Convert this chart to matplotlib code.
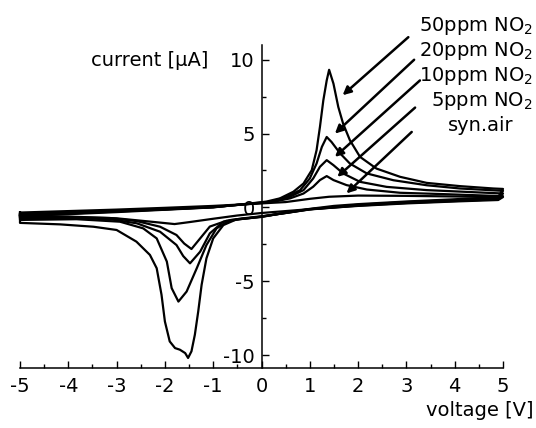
import numpy as np
import matplotlib
matplotlib.use("Agg")
import matplotlib.pyplot as plt
from matplotlib.ticker import MultipleLocator

plt.rcParams["font.family"] = ["DejaVu Sans"]
plt.rcParams["font.size"] = 14
plt.rcParams["axes.unicode_minus"] = False
plt.rcParams["mathtext.default"] = "regular"

# cyclic voltammograms, forward scan (-5 -> 5 V) and reverse scan (5 -> -5 V)
# syn. air
V_AIR_FWD = [-5.0, -4.0, -3.0, -2.0, -1.0, 0.0, 0.5, 1.0, 1.4, 2.0, 3.0, 4.0, 5.0]
I_AIR_FWD = [-0.35, -0.25, -0.15, -0.03, 0.1, 0.27, 0.36, 0.58, 0.72, 0.8, 0.78, 0.74, 0.7]
V_AIR_REV = [5.0, 4.9, 4.0, 3.0, 2.0, 1.0, 0.5, 0.0, -0.5, -1.0, -1.5, -1.8, -2.1, -2.5, -3.0, -4.0, -5.0]
I_AIR_REV = [0.7, 0.5, 0.4, 0.27, 0.1, -0.12, -0.25, -0.38, -0.55, -0.77, -1.0, -1.13, -1.03, -0.9, -0.74, -0.62, -0.58]

# 5 ppm NO2
V_5_FWD = [-5.0, -4.0, -3.0, -2.0, -1.0, 0.0, 0.25, 0.59, 0.87, 1.07, 1.21, 1.35, 1.49, 1.76, 2.18, 2.87, 3.76, 5.0]
I_5_FWD = [-0.45, -0.35, -0.24, -0.12, 0.03, 0.3, 0.38, 0.61, 0.94, 1.4, 1.85, 2.12, 1.85, 1.51, 1.21, 0.99, 0.9, 0.76]
V_5_REV = [5.0, 4.9, 4.0, 3.0, 2.0, 1.0, 0.5, 0.0, -0.4, -0.72, -1.07, -1.27, -1.45, -1.6, -1.76, -2.1, -2.58, -3.14, -4.0, -5.0]
I_5_REV = [0.76, 0.55, 0.43, 0.3, 0.12, -0.14, -0.38, -0.6, -0.75, -0.9, -1.3, -2.1, -2.82, -2.45, -1.87, -1.31, -0.93, -0.72, -0.66, -0.7]

# 10 ppm NO2
V_10_FWD = [-5.0, -4.0, -3.0, -2.0, -1.0, 0.0, 0.25, 0.59, 0.87, 1.07, 1.21, 1.35, 1.49, 1.69, 2.04, 2.59, 3.42, 5.0]
I_10_FWD = [-0.5, -0.38, -0.26, -0.13, 0.02, 0.31, 0.4, 0.72, 1.17, 1.96, 2.75, 3.2, 2.86, 2.3, 1.73, 1.39, 1.17, 0.94]
V_10_REV = [5.0, 4.9, 4.0, 3.0, 2.0, 1.0, 0.5, 0.0, -0.4, -0.79, -1.07, -1.27, -1.48, -1.62, -1.76, -2.1, -2.58, -3.14, -4.0, -5.0]
I_10_REV = [0.94, 0.6, 0.47, 0.33, 0.15, -0.13, -0.38, -0.62, -0.78, -0.97, -1.76, -3.0, -3.79, -3.3, -2.55, -1.65, -1.08, -0.8, -0.72, -0.76]

# 20 ppm NO2
V_20_FWD = [-5.0, -4.0, -3.0, -2.0, -1.0, 0.0, 0.18, 0.52, 0.8, 1.0, 1.14, 1.25, 1.35, 1.45, 1.63, 1.83, 2.18, 2.73, 3.42, 4.11, 5.0]
I_20_FWD = [-0.55, -0.42, -0.28, -0.14, 0.01, 0.33, 0.38, 0.72, 1.17, 1.96, 2.97, 4.1, 4.77, 4.43, 3.65, 2.97, 2.3, 1.84, 1.5, 1.28, 1.12]
V_20_REV = [5.0, 4.9, 4.0, 3.0, 2.0, 1.0, 0.5, 0.0, -0.3, -0.65, -0.93, -1.14, -1.34, -1.55, -1.72, -1.86, -1.96, -2.17, -2.45, -2.93, -3.83, -5.0]
I_20_REV = [1.12, 0.65, 0.5, 0.36, 0.18, -0.12, -0.37, -0.63, -0.75, -0.86, -1.42, -2.55, -4.12, -5.7, -6.38, -5.47, -3.67, -2.1, -1.42, -0.97, -0.8, -0.85]

# 50 ppm NO2
V_50_FWD = [-5.0, -4.0, -3.0, -2.0, -1.0, 0.0, 0.11, 0.38, 0.66, 0.87, 1.04, 1.14, 1.21, 1.28, 1.35, 1.40,
            1.49, 1.59, 1.69, 1.83, 2.04, 2.38, 2.87, 3.42, 4.11, 4.8, 5.0]
I_50_FWD = [-0.6, -0.46, -0.32, -0.16, 0.0, 0.35, 0.4, 0.61, 1.06, 1.62, 2.52, 3.87, 5.45, 7.25, 8.6, 9.32,
            8.38, 6.8, 5.67, 4.55, 3.42, 2.63, 2.07, 1.66, 1.44, 1.28, 1.25]
V_50_REV = [5.0, 4.9, 4.0, 3.0, 2.0, 1.5, 1.0, 0.5, 0.0, -0.51, -0.79, -1.0, -1.14, -1.24, -1.31, -1.38, -1.45,
            -1.52, -1.58, -1.69, -1.79, -1.9, -2.0, -2.07, -2.17, -2.31, -2.59, -3.0, -3.48, -4.17, -5.0]
I_50_REV = [1.25, 0.7, 0.55, 0.4, 0.22, 0.1, -0.1, -0.35, -0.65, -0.8, -1.2, -2.1, -3.45, -5.25, -7.05, -8.63, -9.75,
            -10.2, -9.87, -9.64, -9.53, -9.08, -7.73, -5.92, -4.12, -3.22, -2.32, -1.53, -1.31, -1.15, -1.05]

curves = [
    (V_AIR_FWD, I_AIR_FWD, V_AIR_REV, I_AIR_REV),
    (V_5_FWD, I_5_FWD, V_5_REV, I_5_REV),
    (V_10_FWD, I_10_FWD, V_10_REV, I_10_REV),
    (V_20_FWD, I_20_FWD, V_20_REV, I_20_REV),
    (V_50_FWD, I_50_FWD, V_50_REV, I_50_REV),
]

LABELS = ["50ppm NO$_2$", "20ppm NO$_2$", "10ppm NO$_2$", "5ppm NO$_2$"]
# arrow tail / head (voltage, current) for each label, top to bottom
ARROW_TAIL = [(3.04, 11.53), (3.16, 10.0), (3.28, 8.6), (3.18, 6.76), (3.11, 5.11)]
ARROW_HEAD = [(1.68, 7.6), (1.52, 5.0), (1.52, 3.42), (1.57, 2.07), (1.76, 0.95)]

W, H = 536, 428
fig = plt.figure(figsize=(W / 100, H / 100), dpi=100)
ax = fig.add_axes([20 / W, 59.7 / H, 483 / W, 323.3 / H])

for vf, i_f, vr, i_r in curves:
    v = np.r_[vf, vr, vf[0]]
    i = np.r_[i_f, i_r, i_f[0]]
    ax.plot(v, i, color="black", lw=1.6, solid_joinstyle="round", clip_on=False)

ax.set_xlim(-5, 5)
ax.set_ylim(-10.9, 11)
ax.spines["left"].set_position(("data", 0))
ax.spines["top"].set_visible(False)
ax.spines["right"].set_visible(False)
for s in ["left", "bottom"]:
    ax.spines[s].set_linewidth(1.1)
ax.xaxis.set_major_locator(MultipleLocator(1))
ax.xaxis.set_minor_locator(MultipleLocator(0.5))
ax.yaxis.set_major_locator(MultipleLocator(5))
ax.yaxis.set_minor_locator(MultipleLocator(2.5))
ax.tick_params(which="both", direction="in", width=1.0)
ax.tick_params(which="major", length=5)
ax.tick_params(which="minor", length=3)
ax.tick_params(axis="x", pad=6)
ax.tick_params(axis="y", pad=5)

ax.text(-1.09, 9.95, "current [\u03bcA]", ha="right", va="center")
fig.text(534 / W, 1 - 410 / H, "voltage [V]", ha="right", va="center")

baselines = [31, 56, 81, 106]
for lab, yb in zip(LABELS, baselines):
    fig.text(533 / W, 1 - yb / H, lab, ha="right", va="baseline")
fig.text(481 / W, 1 - 131 / H, "syn.air", ha="center", va="baseline")

for tail, head in zip(ARROW_TAIL, ARROW_HEAD):
    ax.annotate("", xy=head, xytext=tail, annotation_clip=False,
                arrowprops=dict(arrowstyle="-|>", lw=1.8, color="black",
                                mutation_scale=12, shrinkA=0, shrinkB=0))

fig.savefig("out.png", dpi=100)
